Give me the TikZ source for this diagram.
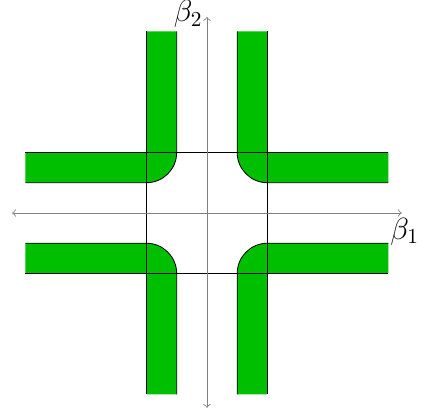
\documentclass[tikz,border=0pt]{standalone}
\definecolor{stripgreen}{RGB}{0,191,0}
\tikzset{
  stripfill/.style={fill=stripgreen,draw=none},
  stripedge/.style={draw=black,line width=0.4pt},
  axisline/.style={draw=gray,line width=0.4pt,<->},
  axislabel/.style={font=\Large,inner sep=0pt}
}
\begin{document}
\begin{tikzpicture}
\useasboundingbox (-3.42,-3.29) rectangle (3.72,3.52);
\foreach \r in {0,90,180,270}{
  \begin{scope}[rotate=\r]
    \fill[stripfill] (-1,3) -- (-1,1) -- (-3,1) -- (-3,0.5) -- (-1,0.5)
      arc[start angle=-90,end angle=0,radius=0.5] -- (-0.5,3) -- cycle;
    \draw[stripedge] (-1,3) -- (-1,1) -- (-3,1);
    \draw[stripedge] (-3,0.5) -- (-1,0.5)
      arc[start angle=-90,end angle=0,radius=0.5] -- (-0.5,3);
  \end{scope}
}
\draw[stripedge] (-1,-1) rectangle (1,1);
\coordinate (xl) at (-3.22,0);
\coordinate (xr) at (3.22,0);
\coordinate (yb) at (0,-3.22);
\coordinate (yt) at (0,3.24);
\draw[axisline] (xl) -- (xr);
\draw[axisline] (yb) -- (yt);
\node[axislabel] (b1) at (3.27,-0.31) {$\beta_1$};
\node[axislabel] (b2) at (-0.31,3.29) {$\beta_2$};
\end{tikzpicture}
\end{document}
